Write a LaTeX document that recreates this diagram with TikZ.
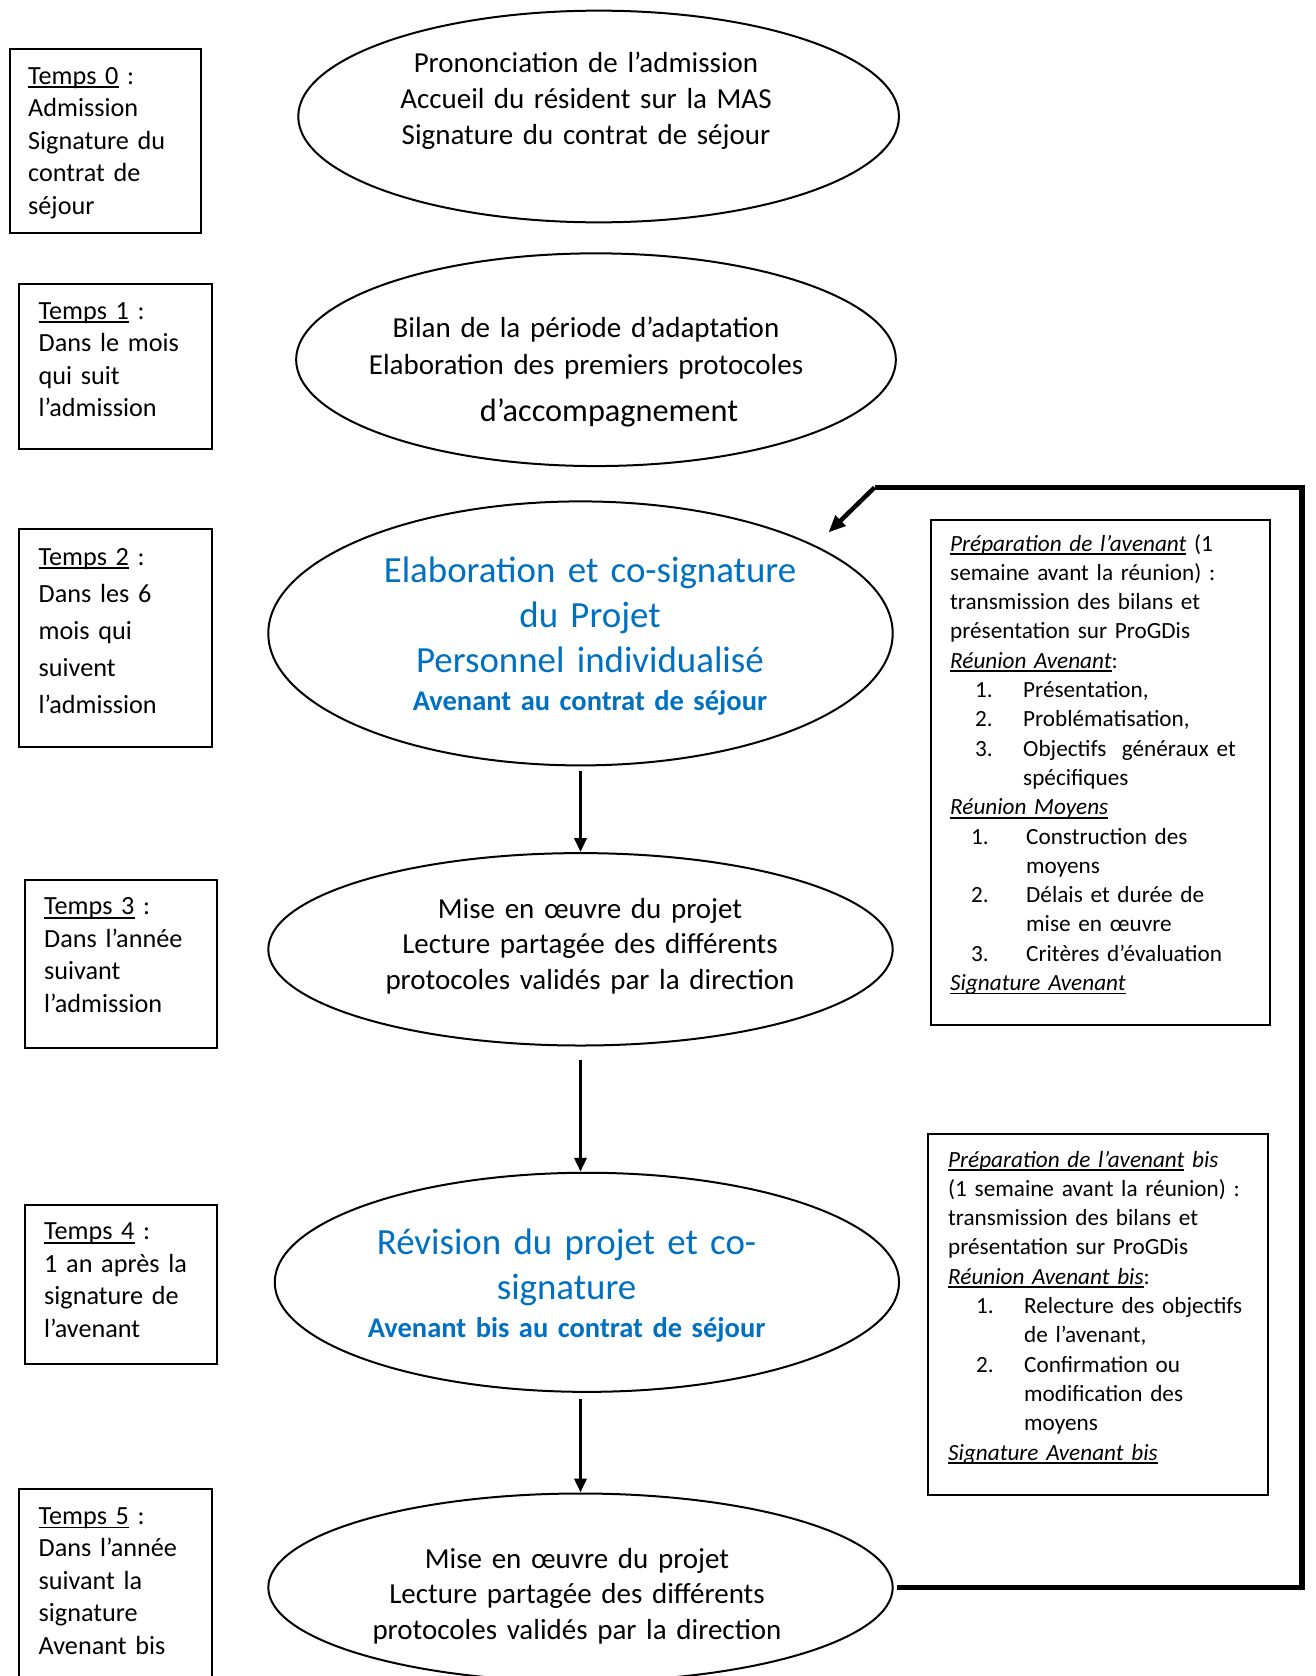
\documentclass[tikz,border=0pt]{standalone}
\usepackage{fontspec}
\setmainfont{Carlito}
\usetikzlibrary{shapes.geometric,arrows.meta}
\definecolor{wblue}{RGB}{0,112,192}
\newcommand\myul[1]{\leavevmode\setbox0=\hbox{#1}\rlap{\rule[-0.17em]{\wd0}{0.075em}}\box0\relax}
\newcommand\nA[2]{\hspace*{25pt}\makebox[48pt][l]{#1}#2}
\newcommand\nB[2]{\hspace*{21pt}\makebox[55pt][l]{#1}#2}
\newcommand\nC[2]{\hspace*{28pt}\makebox[48pt][l]{#1}#2}
\begin{document}
\begin{tikzpicture}[x=1pt,y=-1pt,
  tbox/.style={draw, line width=2pt, rectangle, inner sep=0pt, anchor=north west},
  ell/.style={draw, ellipse, line width=2pt, inner sep=0pt},
  ttext/.style={anchor=base west, inner sep=0pt, text width=180pt, align=left, font=\fontsize{26.2}{32.5}\selectfont},
  etext/.style={anchor=base, inner sep=0pt, text width=600pt, align=center, font=\fontsize{29}{35.8}\selectfont},
  btext/.style={anchor=base, inner sep=0pt, text width=600pt, align=center, text=wblue, font=\fontsize{36.9}{45.3}\selectfont},
  bbold/.style={anchor=base, inner sep=0pt, text width=600pt, align=center, text=wblue, font=\fontsize{28.5}{35.8}\selectfont\bfseries},
  rtext/.style={anchor=base west, inner sep=0pt, text width=330pt, align=left, font=\fontsize{23.2}{29.3}\selectfont},
  arr/.style={line width=3.6pt, -{Triangle[length=14pt,width=12pt]}},
  fb/.style={line width=5.5pt},
  fbarr/.style={line width=4.5pt, -{Triangle[length=17pt,width=14pt]}}]
\useasboundingbox (0,0) rectangle (1315,1676);
\clip (0,0) rectangle (1315,1676);
\fill[white] (0,0) rectangle (1315,1676);

% time boxes
\node[tbox, minimum width=191.3pt, minimum height=183.9pt] (b0) at (8.6,48.1) {};
\node[tbox, minimum width=192.4pt, minimum height=164.6pt] (b1) at (18.2,283.3) {};
\node[tbox, minimum width=192.4pt, minimum height=218.1pt] (b2) at (18.2,528.1) {};
\node[tbox, minimum width=192.4pt, minimum height=167.8pt] (b3) at (23.5,878.8) {};
\node[tbox, minimum width=192.4pt, minimum height=159.3pt] (b4) at (23.5,1203.8) {};
\node[tbox, minimum width=192.4pt, minimum height=230pt] (b5) at (18.2,1488) {};

\node[ttext] (tb0) at (28,84) {\myul{Temps 0} :\\Admission\\Signature du\\contrat de\\séjour};
\node[ttext] (tb1) at (38.5,319) {\myul{Temps 1} :\\Dans le mois\\qui suit\\l’admission};
\node[ttext, font=\fontsize{26.2}{37}\selectfont] (tb2) at (38.5,565) {\myul{Temps 2} :\\Dans les 6\\mois qui\\suivent\\l’admission};
\node[ttext] (tb3) at (44,914.5) {\myul{Temps 3} :\\Dans l’année\\suivant\\l’admission};
\node[ttext] (tb4) at (44,1239.5) {\myul{Temps 4} :\\1 an après la\\signature de\\l’avenant};
\node[ttext] (tb5) at (38.5,1524) {\myul{Temps 5} :\\Dans l’année\\suivant la\\signature\\Avenant bis};

% ellipses
\node[ell, minimum width=600.7pt, minimum height=211.7pt] (e1) at (598.6,116.5) {};
\node[ell, minimum width=599.7pt, minimum height=212.7pt] (e2) at (596,359.7) {};
\node[ell, minimum width=624.4pt, minimum height=264pt] (e3) at (580.5,633.4) {};
\node[ell, minimum width=624.4pt, minimum height=192.4pt] (e4) at (580.5,949.3) {};
\node[ell, minimum width=624.3pt, minimum height=219.1pt] (e5) at (586.9,1282.3) {};
\node[ell, minimum width=624.4pt, minimum height=188pt] (e6) at (580.5,1587.5) {};

\node[etext] (t1) at (586,72.5) {Prononciation de l’admission\\Accueil\hspace{0.32em}du résident sur la MAS\\Signature du contrat de séjour};
\node[etext, font=\fontsize{29}{36.5}\selectfont] (t2a) at (586,337.5) {Bilan de la période d’adaptation\\Elaboration des premiers protocoles};
\node[etext, font=\fontsize{32.3}{36}\selectfont] (t2b) at (609,421.5) {d’accompagnement};
\node[btext] (t3a) at (590,582) {Elaboration et co-signature\\du Projet\\Personnel individualisé};
\node[bbold] (t3b) at (590,710) {Avenant au contrat de séjour};
\node[etext] (t4) at (590,918) {Mise en œuvre du projet\\Lecture partagée des différents\\protocoles validés par la direction};
\node[btext, font=\fontsize{36.9}{45}\selectfont] (t5a) at (566.6,1254) {Révision du projet et co-\\signature};
\node[bbold] (t5b) at (566.6,1337) {Avenant bis au contrat de séjour};
\node[etext] (t6) at (577,1568) {Mise en œuvre du projet\\Lecture partagée des différents\\protocoles validés par la direction};

% right boxes
\node[tbox, minimum width=339pt, minimum height=505.6pt] (r1) at (930,518.5) {};
\node[tbox, minimum width=339.9pt, minimum height=360.3pt] (r2) at (926.9,1133.2) {};

\node[rtext] (rt1) at (950,551) {\myul{\itshape Préparation de l’avenant} (1\\
semaine avant la réunion) :\\
transmission des bilans et\\
présentation sur ProGDis\\
\myul{\itshape Réunion Avenant}:\\
\nA{1.}{Présentation,}\\
\nA{2.}{Problématisation,}\\
\nA{3.}{Objectifs\ \ généraux et}\\
\nA{}{spécifiques}\\
\myul{\itshape Réunion Moyens}\\
\nB{1.}{Construction des}\\
\nB{}{moyens}\\
\nB{2.}{Délais et durée de}\\
\nB{}{mise en œuvre}\\
\nB{3.}{Critères d’évaluation}\\
\myul{\itshape Signature Avenant}};

\node[rtext] (rt2) at (948,1167) {\myul{\itshape Préparation de l’avenant} \textit{bis}\\
(1 semaine avant la réunion) :\\
transmission des bilans et\\
présentation sur ProGDis\\
\myul{\itshape Réunion Avenant bis}:\\
\nC{1.}{Relecture des objectifs}\\
\nC{}{de l’avenant,}\\
\nC{2.}{Confirmation ou}\\
\nC{}{modification des}\\
\nC{}{moyens}\\
\myul{\itshape Signature Avenant bis}};

% arrows
\draw[arr] ([yshift=-5pt]e3.south) -- (e4.north);
\draw[arr] ([yshift=-13pt]e4.south) -- (e4.south |- e5.north);
\draw[arr] ([yshift=-6pt]e6.north |- e5.south) -- (e6.north);

% feedback loop
\coordinate (fbr) at (1302,1587.5);
\coordinate (fbt) at (1302,487.5);
\coordinate (fbl) at (874.5,487.5);
\coordinate (fbtip) at (828.5,532.4);
\draw[fb] ([xshift=3pt]e6.east) -- (fbr) -- (fbt) -- (fbl);
\draw[fbarr] (fbl) -- (fbtip);
\end{tikzpicture}
\end{document}
